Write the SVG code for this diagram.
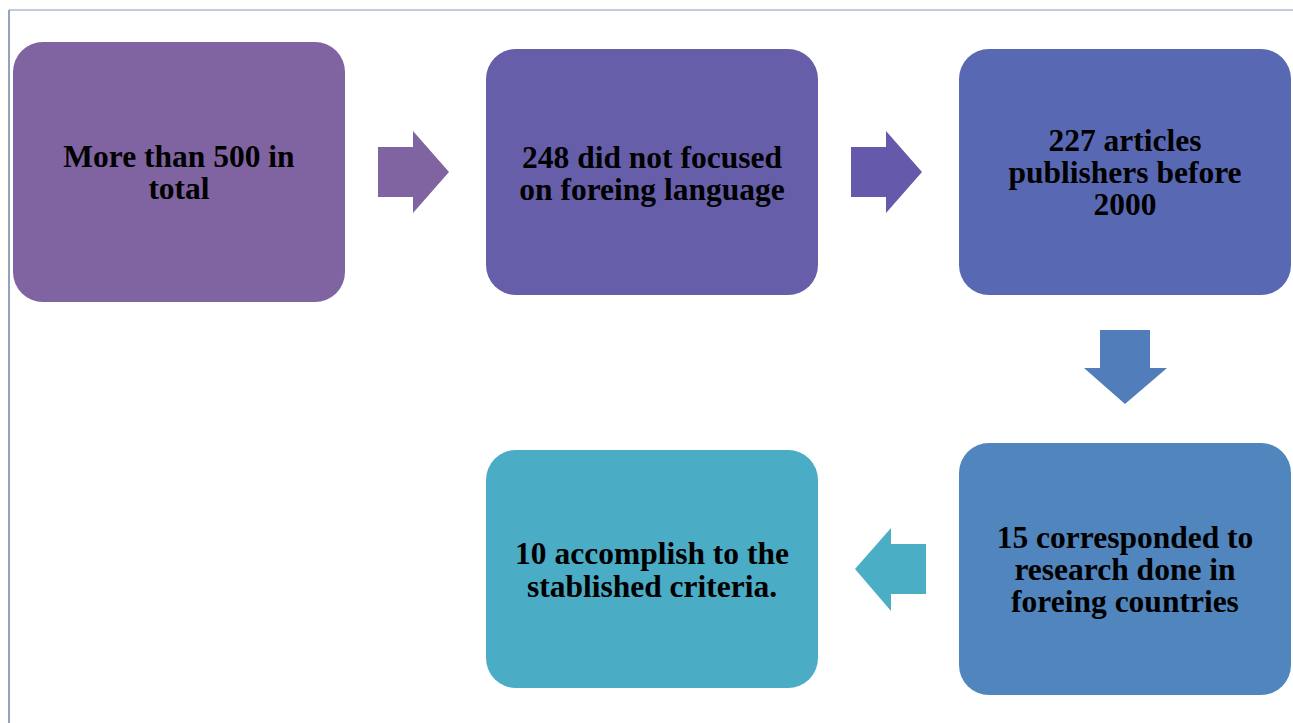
<svg xmlns="http://www.w3.org/2000/svg" width="1293" height="723" viewBox="0 0 1293 723">
<style>
.t{font-family:"Liberation Serif","Times New Roman",serif;font-weight:bold;font-size:31.5px;fill:#000;text-anchor:middle}
</style>
<rect width="1293" height="723" fill="#fff"/>
<line x1="9" y1="10" x2="1293" y2="10" stroke="#aebbd0" stroke-width="1.5"/>
<line x1="9" y1="10" x2="9" y2="723" stroke="#6e85a6" stroke-width="1.5"/>
<g id="connectors">
<polygon points="378,147 413,147 413,131 449,172 413,213 413,197 378,197" fill="#8064a2"/>
<polygon points="851,147 886,147 886,131 922,172 886,213 886,197 851,197" fill="#6459ab"/>
<polygon points="1100,330 1150,330 1150,368 1167,368 1125,404 1084,368 1100,368" fill="#527dbb"/>
<polygon points="926,544 891,544 891,528 855,569 891,611 891,594 926,594" fill="#4aaec5"/>
</g>
<g id="n1">
<rect x="13" y="42" width="332" height="260" rx="30" fill="#8064a2"/>
<text class="t" x="179" y="167">More than 500 in</text>
<text class="t" x="179" y="199">total</text>
</g>
<g id="n2">
<rect x="486" y="49" width="332" height="246" rx="30" fill="#675ea9"/>
<text class="t" x="652" y="168">248 did not focused</text>
<text class="t" x="652" y="200">on foreing language</text>
</g>
<g id="n3">
<rect x="959" y="49" width="332" height="246" rx="30" fill="#5968b3"/>
<text class="t" x="1125" y="151">227 articles</text>
<text class="t" x="1125" y="183">publishers before</text>
<text class="t" x="1125" y="215">2000</text>
</g>
<g id="n4">
<rect x="959" y="443" width="332" height="252" rx="30" fill="#5085bd"/>
<text class="t" x="1125" y="548">15 corresponded to</text>
<text class="t" x="1125" y="580">research done in</text>
<text class="t" x="1125" y="612">foreing countries</text>
</g>
<g id="n5">
<rect x="486" y="450" width="332" height="238" rx="30" fill="#4bacc6"/>
<text class="t" x="652" y="564">10 accomplish to the</text>
<text class="t" x="652" y="597">stablished criteria.</text>
</g>
</svg>
